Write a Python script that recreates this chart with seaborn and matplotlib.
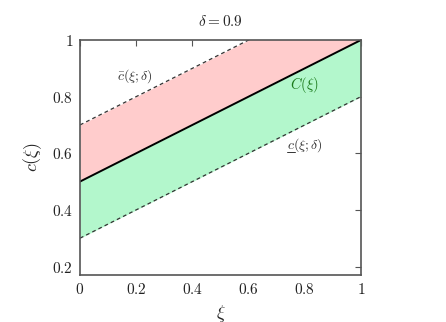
import matplotlib
matplotlib.use("Agg")
import matplotlib.pyplot as plt
import matplotlib.lines as mlines
import seaborn as sns
import pandas as pd

xi = [0.0, 1.0]
c_mid = [0.5, 1.0]
c_upper = [0.7, 1.2]
c_lower = [0.3, 0.8]
x_ticks = [0, 0.2, 0.4, 0.6, 0.8, 1]
y_ticks = [0.2, 0.4, 0.6, 0.8, 1]
title = r"$\delta = 0.9$"

sns.set_theme(style="white")
plt.rcParams['mathtext.fontset'] = 'cm'
plt.rcParams['font.family'] = ['DejaVu Serif']

df = pd.DataFrame({"xi": xi, "mid": c_mid, "up": c_upper, "lo": c_lower})

fig = plt.figure(figsize=(4.46, 3.22), dpi=100)
ax = fig.add_axes([80/446, 1-275/322, 281/446, 235/322])

ax.fill_between(df["xi"], df["mid"], df["up"], color=(1.0, 0.8, 0.8), lw=0)
ax.fill_between(df["xi"], df["lo"], df["mid"], color=(0.70, 0.97, 0.80), lw=0)
sns.lineplot(data=df, x="xi", y="up", ax=ax, color="#333333", lw=0.9, linestyle=(0, (3, 2.5)))
sns.lineplot(data=df, x="xi", y="lo", ax=ax, color="#333333", lw=0.9, linestyle=(0, (3, 2.5)))
sns.lineplot(data=df, x="xi", y="mid", ax=ax, color="black", lw=1.4)

ax.set_xlim(0, 1)
ax.set_ylim(0.17, 1)
ax.set_xticks(x_ticks)
ax.set_yticks(y_ticks)
ax.set_xticklabels([f"${t:g}$" for t in x_ticks], fontsize=11)
ax.set_yticklabels([f"${t:g}$" for t in y_ticks], fontsize=11)
ax.tick_params(direction="in", top=True, right=True, length=4, width=0.8,
               color="#555555", pad=5, labelcolor="#222222")
for s in ax.spines.values():
    s.set_color("#555555")
    s.set_linewidth(1.2)

ax.set_xlabel(r"$\xi$", fontsize=13, labelpad=4)
ax.set_ylabel(r"$c(\xi)$", fontsize=13, labelpad=6)
ax.set_title(title, fontsize=11, pad=10)

ax.text(0.196, 0.873, r"$\bar{c}(\xi;\delta)$", fontsize=10, ha="center", va="center", color="#333333")
ax.text(0.80, 0.842, r"$C(\xi)$", fontsize=10.5, ha="center", va="center", color="#1a7a1a")
t_lo = ax.text(0.80, 0.628, r"$c(\xi;\delta)$", fontsize=10, ha="center", va="center", color="#333333")

# underline the leading "c" of the lower-bound label
fig.canvas.draw()
r = fig.canvas.get_renderer()
bb = t_lo.get_window_extent(r)
tmp = ax.text(0, 0, r"$c$", fontsize=10, transform=None)
cw = tmp.get_window_extent(r).width
tmp.remove()
inv = fig.transFigure.inverted()
ybase = bb.y0 + 2.5
p0 = inv.transform((bb.x0 + 0.5, ybase))
p1 = inv.transform((bb.x0 + cw, ybase))
fig.add_artist(mlines.Line2D([p0[0], p1[0]], [p0[1], p1[1]], color="#333333", lw=0.7))

fig.savefig("out.png", dpi=100)
